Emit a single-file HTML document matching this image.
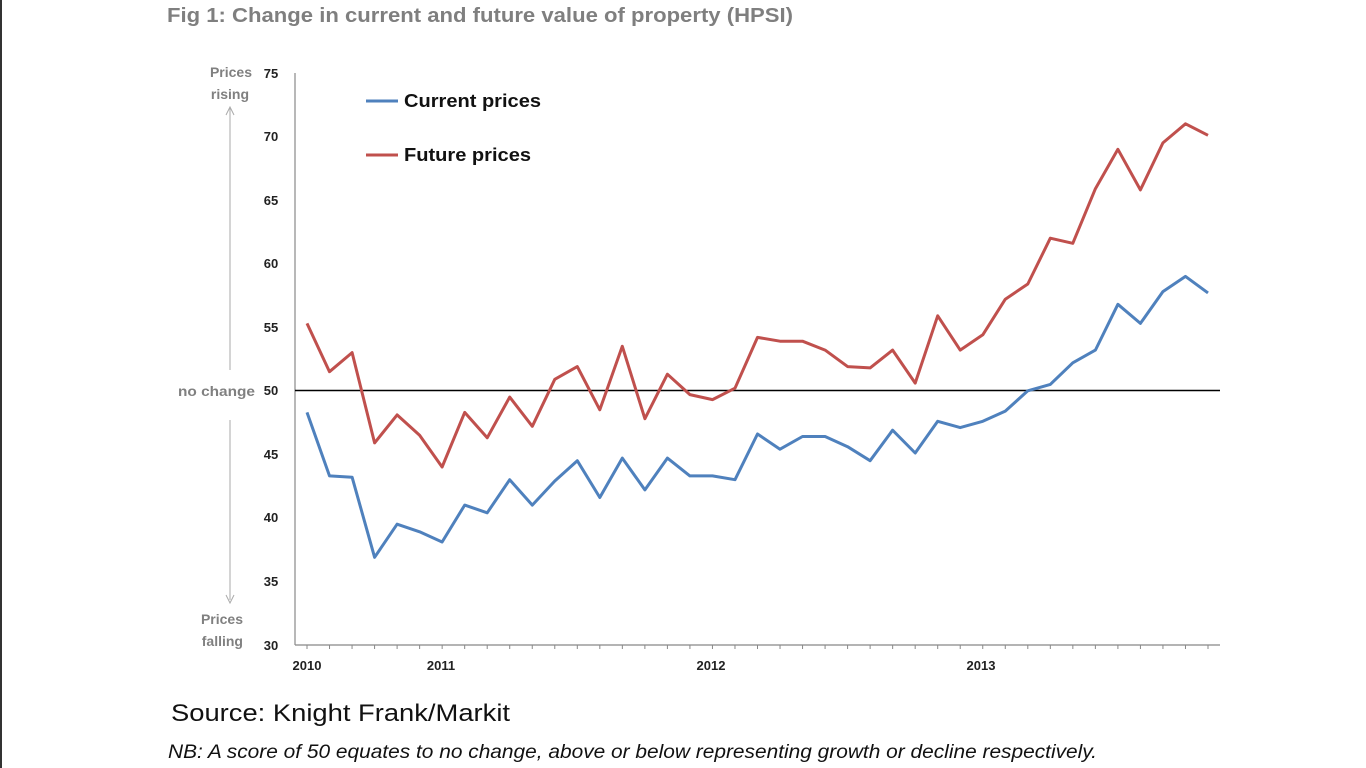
<!DOCTYPE html>
<html><head><meta charset="utf-8"><style>
html,body{margin:0;padding:0;background:#fff;width:1366px;height:768px;overflow:hidden}
svg{display:block}
</style></head><body>
<svg id="s" width="1366" height="768" xmlns="http://www.w3.org/2000/svg" font-family="Liberation Sans, sans-serif">
<rect x="0" y="0" width="1366" height="768" fill="#fff"/>
<line x1="1" y1="0" x2="1" y2="768" stroke="#333" stroke-width="2"/>
<text x="167" y="22" font-size="20" font-weight="bold" fill="#7f7f7f" textLength="626" lengthAdjust="spacingAndGlyphs">Fig 1: Change in current and future value of property (HPSI)</text>
<line x1="295" y1="73" x2="295" y2="645" stroke="#888" stroke-width="1.2"/>
<line x1="295" y1="645" x2="1220" y2="645" stroke="#888" stroke-width="1.2"/>
<g id="ticks"></g>
<g font-size="13" font-weight="bold" fill="#222" text-anchor="middle">
<text x="271" y="78">75</text><text x="271" y="141">70</text><text x="271" y="205">65</text>
<text x="271" y="268">60</text><text x="271" y="332">55</text><text x="271" y="395">50</text>
<text x="271" y="459">45</text><text x="271" y="522">40</text><text x="271" y="586">35</text>
<text x="271" y="650">30</text>
<text x="307" y="670">2010</text><text x="441" y="670">2011</text><text x="711" y="670">2012</text><text x="981" y="670">2013</text>
</g>
<g font-size="14" font-weight="bold" fill="#808080" text-anchor="end">
<text x="252" y="77">Prices</text><text x="249" y="99">rising</text>
<text x="255" y="396" textLength="77" lengthAdjust="spacingAndGlyphs">no change</text>
<text x="243" y="624">Prices</text><text x="243" y="646">falling</text>
</g>
<line x1="230" y1="108" x2="230" y2="370" stroke="#aaa" stroke-width="1"/>
<path d="M226,115 L230,107 L234,115" fill="none" stroke="#aaa"/>
<line x1="230" y1="420" x2="230" y2="600" stroke="#aaa" stroke-width="1"/>
<path d="M226,595 L230,603 L234,595" fill="none" stroke="#aaa"/>
<line x1="295" y1="390.5" x2="1220" y2="390.5" stroke="#000" stroke-width="1.5"/>
<polyline id="red" fill="none" stroke="#c0504d" stroke-width="3" stroke-linejoin="round"/>
<polyline id="blue" fill="none" stroke="#4f81bd" stroke-width="3" stroke-linejoin="round"/>
<line x1="366" y1="101" x2="398" y2="101" stroke="#4f81bd" stroke-width="3"/>
<line x1="366" y1="155" x2="398" y2="155" stroke="#c0504d" stroke-width="3"/>
<text x="404" y="107" font-size="18" font-weight="bold" fill="#111" textLength="137" lengthAdjust="spacingAndGlyphs">Current prices</text>
<text x="404" y="161" font-size="18" font-weight="bold" fill="#111" textLength="127" lengthAdjust="spacingAndGlyphs">Future prices</text>
<text x="171" y="721" font-size="24" fill="#111" textLength="339" lengthAdjust="spacingAndGlyphs">Source: Knight Frank/Markit</text>
<text x="168" y="758" font-size="19" font-style="italic" fill="#111" textLength="929" lengthAdjust="spacingAndGlyphs">NB: A score of 50 equates to no change, above or below representing growth or decline respectively.</text>
</svg>
<script>
var b=[48.3,43.3,43.2,36.9,39.5,38.9,38.1,41.0,40.4,43.0,41.0,42.9,44.5,41.6,44.7,42.2,44.7,43.3,43.3,43.0,46.6,45.4,46.4,46.4,45.6,44.5,46.9,45.1,47.6,47.1,47.6,48.4,50.0,50.5,52.2,53.2,56.8,55.3,57.8,59.0,57.7];
var r=[55.3,51.5,53.0,45.9,48.1,46.5,44.0,48.3,46.3,49.5,47.2,50.9,51.9,48.5,53.5,47.8,51.3,49.7,49.3,50.2,54.2,53.9,53.9,53.2,51.9,51.8,53.2,50.6,55.9,53.2,54.4,57.2,58.4,62.0,61.6,65.9,69.0,65.8,69.5,71.0,70.1];
function X(i){return 307+i*22.525}function Y(v){return 73+(75-v)*12.71}
function pts(a){return a.map(function(v,i){return X(i).toFixed(1)+','+Y(v).toFixed(1)}).join(' ')}
document.getElementById('blue').setAttribute('points',pts(b));
document.getElementById('red').setAttribute('points',pts(r));
var t='';for(var i=0;i<41;i++){t+='<line x1="'+X(i)+'" y1="645" x2="'+X(i)+'" y2="649" stroke="#888"/>';}
document.getElementById('ticks').innerHTML=t;
</script>
</body></html>
